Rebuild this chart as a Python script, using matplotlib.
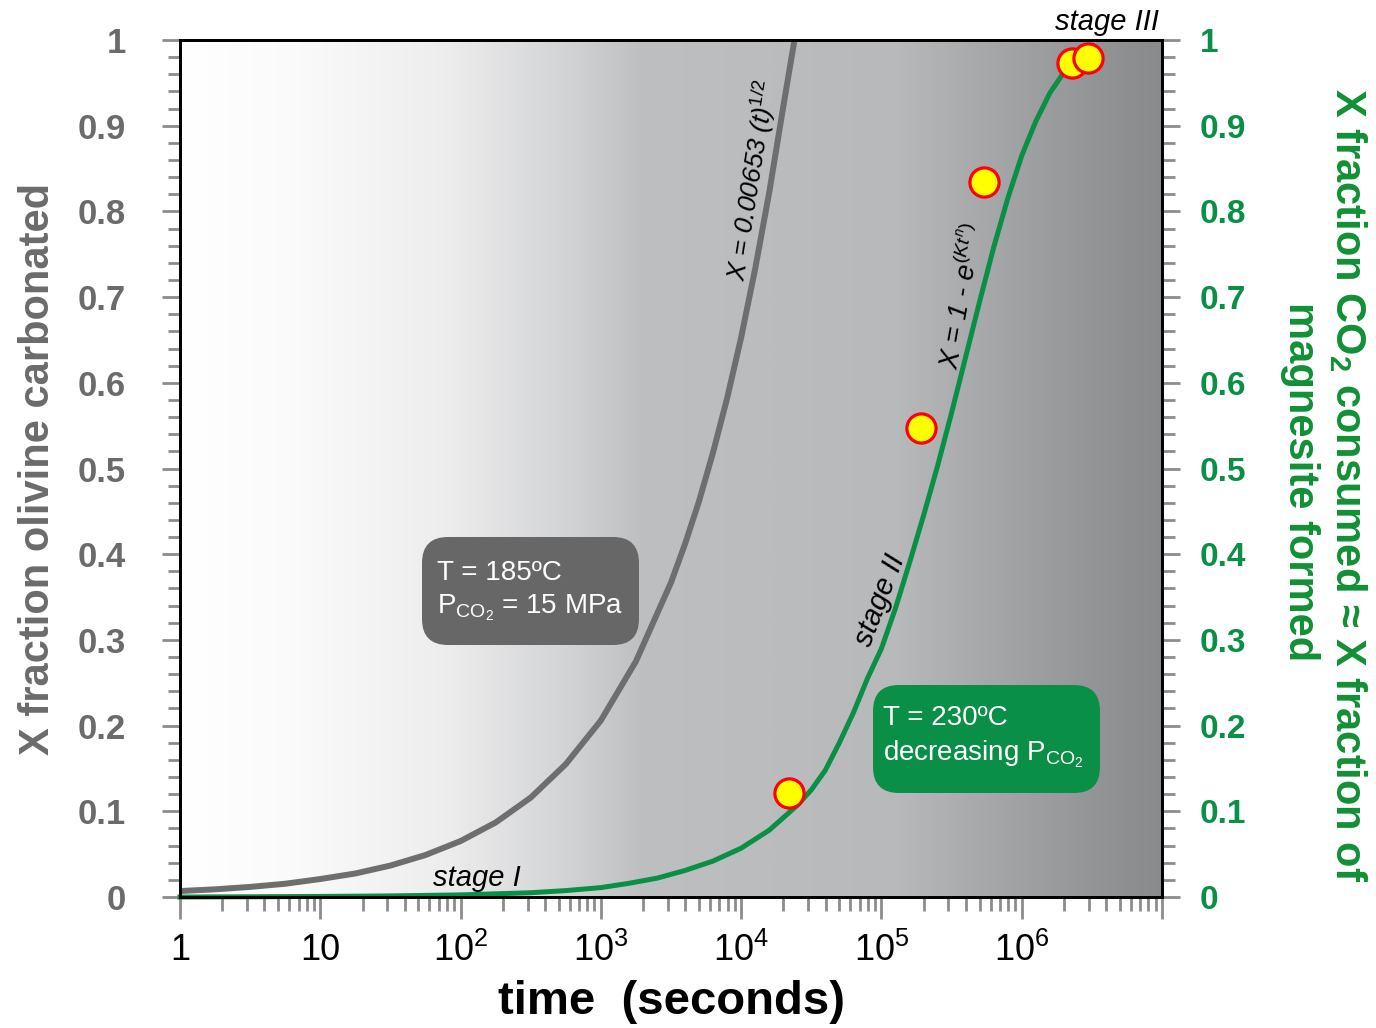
import numpy as np
import matplotlib
matplotlib.use("Agg")
import matplotlib.pyplot as plt
from matplotlib.colors import LinearSegmentedColormap
from matplotlib.patches import FancyBboxPatch
from matplotlib.ticker import MultipleLocator, FixedLocator, LogLocator, NullFormatter

plt.rcParams['font.family'] = ['Liberation Sans', 'DejaVu Sans']
plt.rcParams['mathtext.fontset'] = 'custom'
plt.rcParams['mathtext.rm'] = 'Liberation Sans'
plt.rcParams['mathtext.it'] = 'Liberation Sans:italic'
plt.rcParams['mathtext.bf'] = 'Liberation Sans:bold'

# parabolic (diffusion) curve, T = 185 C
t_parab = [1, 1.78, 3.16, 5.62, 10, 17.8, 31.6, 56.2, 100, 178, 316, 562, 1000, 1778,
           3162, 3981, 5012, 6310, 7943, 10000, 12589, 15849, 19953, 23988]
x_parab = [0.007, 0.009, 0.0118, 0.0155, 0.021, 0.0275, 0.0367, 0.049, 0.0653, 0.087, 0.116,
           0.155, 0.206, 0.275, 0.367, 0.412, 0.462, 0.519, 0.582, 0.653, 0.733, 0.822, 0.922, 1.0]

# Avrami curve, T = 230 C
t_avrami = [1, 3.16, 10, 31.6, 100, 316, 562, 1000, 1585, 2512, 3981, 6310, 10000, 15849,
            25119, 31623, 39811, 50119, 63096, 79433, 100000, 125893, 158489, 199526,
            251189, 316228, 398107, 501187, 630957, 794328, 1000000, 1258925, 1584893,
            1995262, 2290868]
x_avrami = [0.0, 0.0003, 0.0007, 0.0013, 0.0025, 0.005, 0.0075, 0.011, 0.016, 0.022, 0.031,
            0.042, 0.057, 0.078, 0.107, 0.125, 0.148, 0.18, 0.215, 0.255, 0.29, 0.337, 0.39,
            0.445, 0.503, 0.565, 0.63, 0.695, 0.758, 0.815, 0.865, 0.905, 0.938, 0.962, 0.975]

# measured points
t_meas = [22000, 190000, 536000, 2270000, 2960000]
x_meas = [0.121, 0.547, 0.834, 0.973, 0.979]

x_tick_vals = [1, 10, 100, 1e3, 1e4, 1e5, 1e6, 1e7]
x_tick_labels = ['1', '10', r'$\mathregular{10^2}$', r'$\mathregular{10^3}$', r'$\mathregular{10^4}$',
                 r'$\mathregular{10^5}$', r'$\mathregular{10^6}$', '']
y_tick_vals = [0, 0.1, 0.2, 0.3, 0.4, 0.5, 0.6, 0.7, 0.8, 0.9, 1]
y_tick_labels = ['0', '0.1', '0.2', '0.3', '0.4', '0.5', '0.6', '0.7', '0.8', '0.9', '1']

grey_txt = '#6B6B6B'
green = '#0A8F46'
green_lbl = '#109035'

fig = plt.figure(figsize=(13.76, 10.28), dpi=100)
ax = fig.add_axes([0.1308, 0.1274, 0.8445 - 0.1308, 0.9611 - 0.1274])

# grey gradient background
bg = LinearSegmentedColormap.from_list('bg', [
    (0.0, '#FFFFFF'), (0.12, '#FAFAFA'), (0.27, '#EDEDED'), (0.39, '#D3D4D6'),
    (0.47, '#BEBFC1'), (0.73, '#B8B9BB'), (0.83, '#A5A6A8'), (0.94, '#929395'),
    (1.0, '#898A8C')])
ax.imshow(np.linspace(0, 1, 600)[None, :], cmap=bg, extent=[0, 1, 0, 1],
          transform=ax.transAxes, aspect='auto', zorder=0, interpolation='bilinear')

ax.plot(t_parab, x_parab, color='#6E6E6E', lw=4.3, zorder=3, solid_capstyle='butt', clip_on=False)
ax.plot(t_avrami, x_avrami, color=green, lw=3.6, zorder=3, clip_on=False)
ax.plot(t_meas, x_meas, 'o', ms=21, mfc='#FFFF00', mec='#FF0000', mew=2.3, zorder=5, clip_on=False)

ax.set_xscale('log')
ax.set_xlim(1, 1e7)
ax.set_ylim(0, 1)

ax.xaxis.set_major_locator(FixedLocator(x_tick_vals))
ax.set_xticklabels(x_tick_labels)
ax.xaxis.set_minor_locator(LogLocator(base=10, subs=np.arange(2, 10), numticks=20))
ax.xaxis.set_minor_formatter(NullFormatter())
ax.set_yticks(y_tick_vals)
ax.set_yticklabels(y_tick_labels)
ax.yaxis.set_minor_locator(MultipleLocator(0.02))

ax.tick_params(axis='x', which='major', direction='out', length=16, width=2, color='#8C8C8C',
               labelsize=26, pad=10, labelcolor='black')
ax.tick_params(axis='x', which='minor', direction='out', length=10, width=2, color='#8C8C8C')
ax.tick_params(axis='y', which='major', direction='out', length=13, width=2, color='#8C8C8C',
               labelsize=25, pad=26, labelcolor=grey_txt)
ax.tick_params(axis='y', which='minor', direction='out', length=9, width=2, color='#8C8C8C')
for lab in ax.get_yticklabels():
    lab.set_fontweight('bold')

for s in ax.spines.values():
    s.set_linewidth(2)
    s.set_color('black')
    s.set_zorder(4)

ax.set_xlabel('time  (seconds)', fontsize=34, fontweight='bold', labelpad=8)
ax.set_ylabel('X fraction olivine carbonated', fontsize=30, fontweight='bold', color=grey_txt, labelpad=14)

# right axis, same scale
ax2 = ax.twinx()
ax2.set_ylim(0, 1)
ax2.set_yticks(y_tick_vals)
ax2.set_yticklabels(y_tick_labels)
ax2.yaxis.set_minor_locator(MultipleLocator(0.02))
ax2.tick_params(axis='y', which='major', direction='out', length=13, width=2, color='#8C8C8C',
                labelsize=24, pad=14, labelcolor=green)
ax2.tick_params(axis='y', which='minor', direction='out', length=9, width=2, color='#8C8C8C')
for lab in ax2.get_yticklabels():
    lab.set_fontweight('bold')
for s in ax2.spines.values():
    s.set_linewidth(2)

narrow = ['Liberation Sans Narrow', 'Liberation Sans', 'DejaVu Sans']
fig.text(13.48 / 13.76, 1 - 485 / 1028, 'X fraction CO$_\\mathbf{2}$ consumed \u2248 X fraction of',
         rotation=-90, ha='center', va='center', fontsize=30, fontweight='bold',
         color=green_lbl, family=narrow)
fig.text(13.00 / 13.76, 1 - 482 / 1028, 'magnesite formed',
         rotation=-90, ha='center', va='center', fontsize=30, fontweight='bold',
         color=green_lbl, family=narrow)

# annotations on the curves
ax.text(7.52, 10.28 - 1.80, r'X = 0.00653 (t)$^{\mathit{1/2}}$', transform=fig.dpi_scale_trans,
        rotation=81, ha='center', va='center', fontsize=19, style='italic', zorder=6)
ax.text(9.62, 10.28 - 2.96, r'X = 1 - e$^{\mathit{(Kt^n)}}$', transform=fig.dpi_scale_trans,
        rotation=80, ha='center', va='center', fontsize=20, style='italic', zorder=6)
ax.text(4.77, 10.28 - 8.78, 'stage I', transform=fig.dpi_scale_trans,
        ha='center', va='center', fontsize=21, style='italic', zorder=6)
ax.text(8.80, 10.28 - 6.00, 'stage II', transform=fig.dpi_scale_trans,
        rotation=69, ha='center', va='center', fontsize=21, style='italic', zorder=6)
ax.text(11.07, 10.28 - 0.22, 'stage III', transform=fig.dpi_scale_trans,
        ha='center', va='center', fontsize=21, style='italic', zorder=6, clip_on=False)

# condition boxes
box1 = FancyBboxPatch((4.22, 3.83), 2.17, 1.08, boxstyle='round,pad=0,rounding_size=0.26',
                      transform=fig.dpi_scale_trans, fc='#676767', ec='none', zorder=6)
ax.add_patch(box1)
ax.text(4.37, 4.55, 'T = 185\u00baC', transform=fig.dpi_scale_trans, color='white',
        fontsize=20, ha='left', va='center', zorder=7)
ax.text(4.37, 4.20, r'P$_{\mathregular{CO_2}}$ = 15 MPa', transform=fig.dpi_scale_trans, color='white',
        fontsize=20, ha='left', va='center', zorder=7)

box2 = FancyBboxPatch((8.73, 2.35), 2.27, 1.08, boxstyle='round,pad=0,rounding_size=0.26',
                      transform=fig.dpi_scale_trans, fc=green, ec='none', zorder=6)
ax.add_patch(box2)
ax.text(8.83, 3.10, 'T = 230\u00baC', transform=fig.dpi_scale_trans, color='white',
        fontsize=20, ha='left', va='center', zorder=7)
ax.text(8.83, 2.74, r'decreasing P$_{\mathregular{CO_2}}$', transform=fig.dpi_scale_trans, color='white',
        fontsize=20, ha='left', va='center', zorder=7)

fig.savefig('out.png', dpi=100)
